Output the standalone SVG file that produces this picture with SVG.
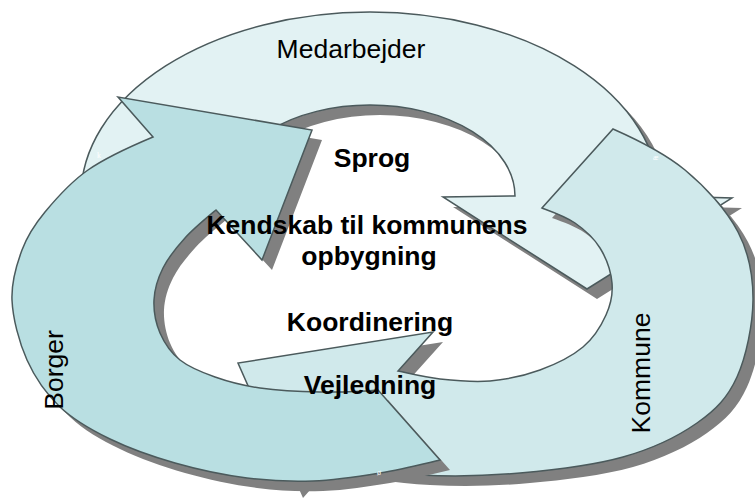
<svg xmlns="http://www.w3.org/2000/svg" xmlns:xlink="http://www.w3.org/1999/xlink" width="755" height="500" viewBox="0 0 755 500">
<style>
.shadow{fill:#808080;stroke:none}
.arrow{stroke:#4b5a5c;stroke-width:1.5;stroke-linejoin:miter}
.med{fill:#e2f2f3}
.kom{fill:#d0e9eb}
.bor{fill:#b9dfe2}
.lbl{font-family:"Liberation Sans",Arial,sans-serif;font-size:26.5px;fill:#000}
.bold{font-weight:bold}
.tiny{font-family:"Liberation Serif",serif;font-size:8px;fill:#fff}
</style>
<defs>
<path id="p-med" d="M 81,196 A 289,184 0 0 1 659,196 L 732,198 L 587,289 L 443,197 L 515,196 A 145,91 0 0 0 225,196 Z"/>
<path id="p-kom" d="M 613,129 C 636.3,139.3 664.2,152.8 685,170 C 705.8,187.2 726.7,210.3 738,232 C 749.3,253.7 753.2,275.8 753,300 C 752.8,324.2 746.3,356.5 737,377 C 727.7,397.5 716,409.7 697,423 C 678,436.3 652.5,448.7 623,457 C 593.5,465.3 553.8,470 520,473 C 486.2,476 454,476.8 420,475 C 386,473.2 349.3,467.8 316,462 L 293,488 L 238,363 L 433,332 L 398,371 C 411.3,373.8 424.7,377.3 440,379 C 455.3,380.7 473.3,382.5 490,381 C 506.7,379.5 524.5,375.7 540,370 C 555.5,364.3 572,356.2 583,347 C 594,337.8 601.2,325.7 606,315 C 610.8,304.3 613,294.2 612,283 C 611,271.8 606.2,258 600,248 C 593.8,238 584.7,229.7 575,223 C 565.3,216.3 553.7,212.3 542,208 Z"/>
<path id="p-bor" d="M 440,460 C 420,464.7 401.2,469.5 380,473 C 358.8,476.5 335.2,480.2 313,481 C 290.8,481.8 270,481 247,478 C 224,475 197.8,469.5 175,463 C 152.2,456.5 129.2,448.3 110,439 C 90.8,429.7 73.8,420.2 60,407 C 46.2,393.8 35,377.8 27,360 C 19,342.2 12.8,318.3 12,300 C 11.2,281.7 16.5,264.7 22,250 C 27.5,235.3 34,225.3 45,212 C 56,198.7 70,182.5 88,170 C 106,157.5 131,146.2 153,137 L 118,97 L 312,130 L 262,260 L 216,210 C 206,218.3 193.8,228.3 185,238 C 176.2,247.7 168.2,257.7 163,268 C 157.8,278.3 154.5,289.2 154,300 C 153.5,310.8 155.7,323 160,333 C 164.3,343 170.8,352.7 180,360 C 189.2,367.3 201.7,372.3 215,377 C 228.3,381.7 242.5,385.5 260,388 C 277.5,390.5 300.3,391.7 320,392 C 339.7,392.3 359.7,391.7 378,390 Z"/>
</defs>
<rect width="755" height="500" fill="#fff"/>
<g id="medarbejder">
<use xlink:href="#p-med" class="shadow" transform="translate(10,10)"/>
<use xlink:href="#p-med" class="arrow med"/>
<text class="lbl" x="351" y="58" text-anchor="middle">Medarbejder</text>
<text class="tiny" x="97" y="158">k</text>
</g>
<g id="kommune">
<use xlink:href="#p-kom" class="shadow" transform="translate(10,10)"/>
<use xlink:href="#p-kom" class="arrow kom"/>
<text class="lbl" transform="translate(650,373) rotate(-90)" text-anchor="middle">Kommune</text>
<text class="tiny" x="653" y="160">æ</text>
</g>
<g id="borger">
<use xlink:href="#p-bor" class="shadow" transform="translate(10,10)"/>
<use xlink:href="#p-bor" class="arrow bor"/>
<text class="lbl" transform="translate(63,370) rotate(-90)" text-anchor="middle">Borger</text>
<text class="tiny" x="377" y="475">ø</text>
</g>
<g id="connectors"></g>
<g id="center-text" class="lbl bold" text-anchor="middle">
<text x="372" y="167">Sprog</text>
<text x="367" y="234">Kendskab til kommunens</text>
<text x="369" y="265">opbygning</text>
<text x="370" y="331">Koordinering</text>
<text x="370" y="394">Vejledning</text>
</g>
</svg>
